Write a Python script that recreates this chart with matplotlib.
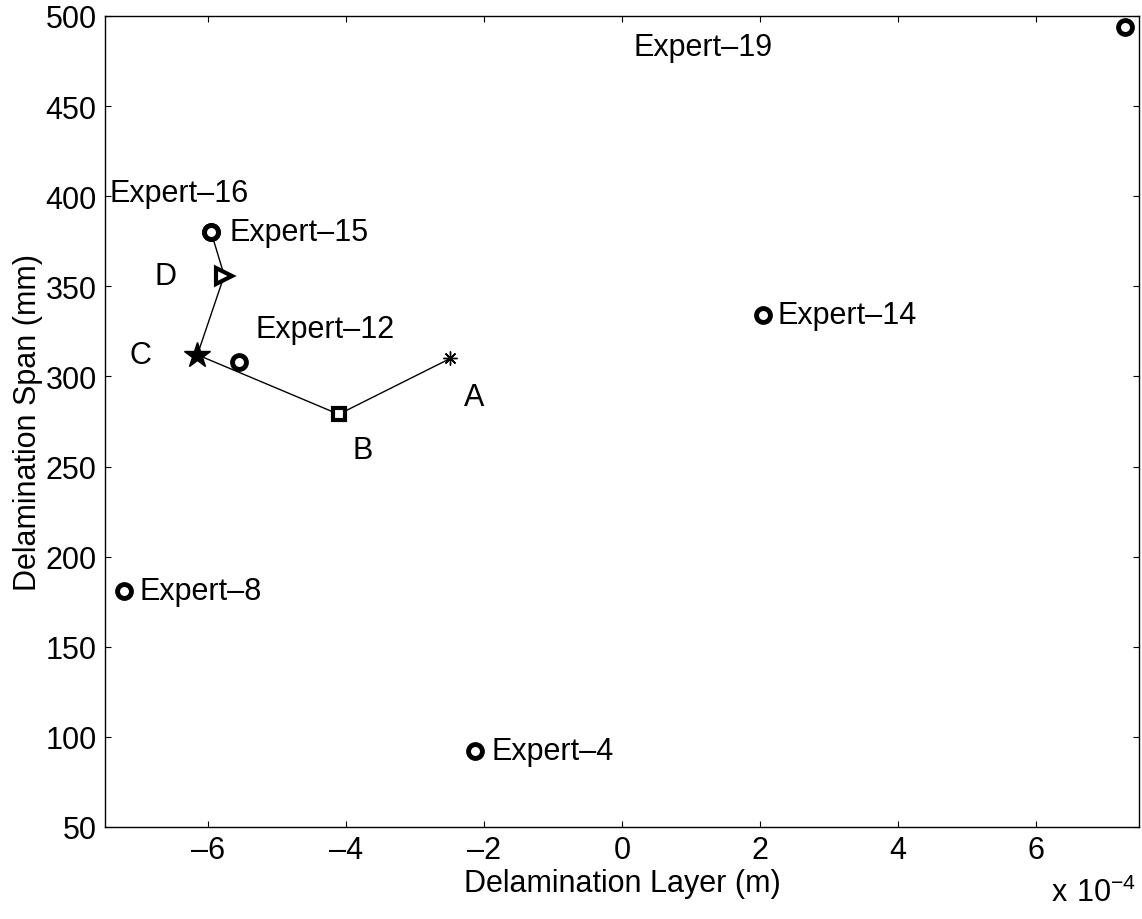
import numpy as np
import matplotlib
matplotlib.use("Agg")
import matplotlib.pyplot as plt
from matplotlib.ticker import FuncFormatter, MultipleLocator

# expert opinions (layer in m, span in mm)
expert_names = ["Expert–4", "Expert–8", "Expert–12", "Expert–14",
                "Expert–15", "Expert–16", "Expert–19"]
expert_x = [-2.13e-4, -7.22e-4, -5.55e-4, 2.04e-4, -5.96e-4, -5.96e-4, 7.30e-4]
expert_y = [92, 181, 308, 334, 380, 380, 494]

# search path A -> B -> C -> D -> end
path_names = ["A", "B", "C", "D"]
path_x = [-2.49e-4, -4.11e-4, -6.16e-4, -5.77e-4, -5.96e-4]
path_y = [310, 279, 312, 356, 380]

# label offsets in pixels (dx, dy)
expert_off = [(16, 0), (15, 0), (16, 33), (15, 0), (18, 0), (-102, 39), (-492, -20)]
path_off = [(14, -39), (14, -36), (-68, 0), (-70, 0)]

plt.rcParams['font.family'] = ['Liberation Sans', 'DejaVu Sans']
fs = 22

fig = plt.figure(figsize=(11.42, 9.2), dpi=100)
ax = fig.add_axes([105/1142, 1 - 828/920, (1139-105)/1142, (828-17)/920])

ax.plot(path_x, path_y, color='k', lw=1, zorder=1)
ax.plot(expert_x, expert_y, 'o', ms=10, mfc='white', mec='k', mew=3.5, zorder=3)

ax.plot(path_x[0], path_y[0], marker=(8, 2, 0), ms=10, color='k', mew=1, ls='none', zorder=3)
ax.plot(path_x[1], path_y[1], 's', ms=9, mfc='white', mec='k', mew=3, zorder=3)
ax.plot(path_x[2], path_y[2], '*', ms=19, color='k', zorder=3)
ax.plot(path_x[3], path_y[3], '>', ms=11, mfc='white', mec='k', mew=3, zorder=3)

for name, x, y, off in zip(expert_names, expert_x, expert_y, expert_off):
    ax.annotate(name, (x, y), xytext=off, textcoords='offset pixels',
                ha='left', va='center', fontsize=fs)
for name, x, y, off in zip(path_names, path_x, path_y, path_off):
    ax.annotate(name, (x, y), xytext=off, textcoords='offset pixels',
                ha='left', va='center', fontsize=fs)

def xfmt(v, p):
    if abs(v) < 1e-12:
        return "0"
    return ("%g" % round(v * 1e4, 6)).replace("-", "–")

ax.set_xlim(-7.5e-4, 7.5e-4)
ax.set_ylim(50, 500)
ax.xaxis.set_major_locator(MultipleLocator(2e-4))
ax.yaxis.set_major_locator(MultipleLocator(50))
ax.xaxis.set_major_formatter(FuncFormatter(xfmt))
ax.tick_params(direction='in', length=4, width=0.8, top=True, right=True,
               labelsize=fs, pad=6, colors='k')
for s in ax.spines.values():
    s.set_linewidth(1.0)

ax.set_xlabel("Delamination Layer (m)", fontsize=fs, labelpad=2)
ax.set_ylabel("Delamination Span (mm)", fontsize=fs, labelpad=2)
fig.text(1136/1142, 1 - 893/920, r"$\mathregular{x\ 10^{-4}}$", fontsize=fs,
         ha='right', va='center')

fig.savefig("out.png", dpi=100)
